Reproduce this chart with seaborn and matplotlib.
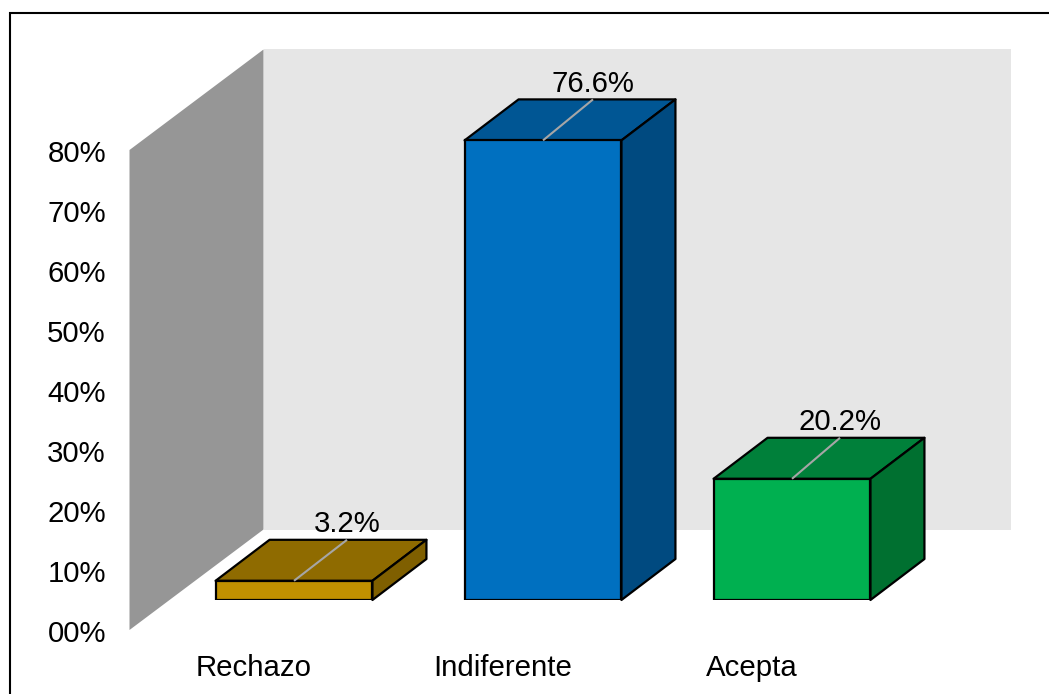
import matplotlib
matplotlib.use("Agg")
import matplotlib.pyplot as plt
from matplotlib.lines import Line2D
from matplotlib.patches import Polygon
from matplotlib.transforms import ScaledTranslation
import seaborn as sns

categories = ["Rechazo", "Indiferente", "Acepta"]
values = [3.2, 76.6, 20.2]
value_labels = ["3.2%", "76.6%", "20.2%"]
y_ticks = [0, 10, 20, 30, 40, 50, 60, 70, 80]
y_tick_labels = ["00%", "10%", "20%", "30%", "40%", "50%", "60%", "70%", "80%"]
front_colors = ["#C09000", "#0070C0", "#00B050"]
top_colors = ["#8F6B00", "#005694", "#00803A"]
side_colors = ["#7F5F00", "#004A80", "#007030"]

W, H = 1049, 694
FONT = 21.2

sns.set_theme(style="white")
plt.rcParams["font.family"] = ["Liberation Sans", "DejaVu Sans"]

fig = plt.figure(figsize=(W / 100, H / 100), dpi=100, facecolor="white")


def rect(left, top, right, bottom):
    return [left / W, 1 - bottom / H, (right - left) / W, (bottom - top) / H]


# Front plane of the chart: holds the axis labels and the walls
ax = fig.add_axes(rect(129.5, 150, 876.5, 630))
ax.set_xlim(-0.5, 2.5)
ax.set_ylim(0, 80)
ax.patch.set_visible(False)
ax.set_xticks(range(len(categories)), categories, fontsize=FONT, color="black")
ax.set_yticks(y_ticks, y_tick_labels, fontsize=FONT, color="black")
ax.tick_params(axis="x", length=0, pad=17)
ax.tick_params(axis="y", length=0, pad=17)
sns.despine(ax=ax, left=True, bottom=True)
nudge = ScaledTranslation(0, -1 / 100, fig.dpi_scale_trans)
for label in ax.get_yticklabels():
    label.set_transform(label.get_transform() + nudge)

wall_dx = 134 / 249
wall_dy = 100.5 / 6
ax.add_patch(Polygon([(-0.5 + wall_dx, wall_dy), (-0.5 + wall_dx, 80 + wall_dy),
                      (2.5 + wall_dx, 80 + wall_dy), (2.5 + wall_dx, wall_dy)],
                     closed=True, fc="#E6E6E6", ec="none", clip_on=False, zorder=1))
ax.add_patch(Polygon([(-0.5, 0), (-0.5, 80), (-0.5 + wall_dx, 80 + wall_dy), (-0.5 + wall_dx, wall_dy)],
                     closed=True, fc="#969696", ec="none", clip_on=False, zorder=2))

# Bar plane, set back from the front plane
ax_bars = fig.add_axes(rect(169.5, 120, 916.5, 600))
ax_bars.patch.set_visible(False)
sns.barplot(x=categories, y=values, hue=categories, palette=front_colors, legend=False,
            width=0.63, saturation=1, edgecolor="black", linewidth=1.6, ax=ax_bars, zorder=4)
ax_bars.set_xlim(-0.5, 2.5)
ax_bars.set_ylim(0, 80)
ax_bars.axis("off")

bar_dx = 54 / 249
bar_dy = 41 / 6
leader_dx = [53 / 249, 50 / 249, 48 / 249]
for i, bar in enumerate(ax_bars.patches):
    x0, w, h = bar.get_x(), bar.get_width(), bar.get_height()
    x1 = x0 + w
    ax_bars.add_patch(Polygon([(x0, h), (x1, h), (x1 + bar_dx, h + bar_dy), (x0 + bar_dx, h + bar_dy)],
                              closed=True, fc=top_colors[i], ec="black", lw=1.6,
                              joinstyle="round", clip_on=False, zorder=3))
    ax_bars.add_patch(Polygon([(x1, 0), (x1, h), (x1 + bar_dx, h + bar_dy), (x1 + bar_dx, bar_dy)],
                              closed=True, fc=side_colors[i], ec="black", lw=1.6,
                              joinstyle="round", clip_on=False, zorder=3))
    xc = x0 + w / 2
    ax_bars.plot([xc, xc + leader_dx[i]], [h, h + bar_dy], color="#A6A6A6", lw=1.5,
                 clip_on=False, zorder=5, solid_capstyle="butt")
    ax_bars.annotate(value_labels[i], (xc + leader_dx[i], h + bar_dy), xytext=(0, 5.5),
                     textcoords="offset points", ha="center", va="baseline",
                     fontsize=FONT, color="black", annotation_clip=False, zorder=6)

# Partial frame: only the top and left edges show in the image
fig.add_artist(Line2D([9.5 / W, 9.5 / W, 1], [0, 1 - 13 / H, 1 - 13 / H],
                      color="black", lw=1.5, solid_joinstyle="miter"))

fig.savefig("out.png", dpi=100, facecolor="white")
